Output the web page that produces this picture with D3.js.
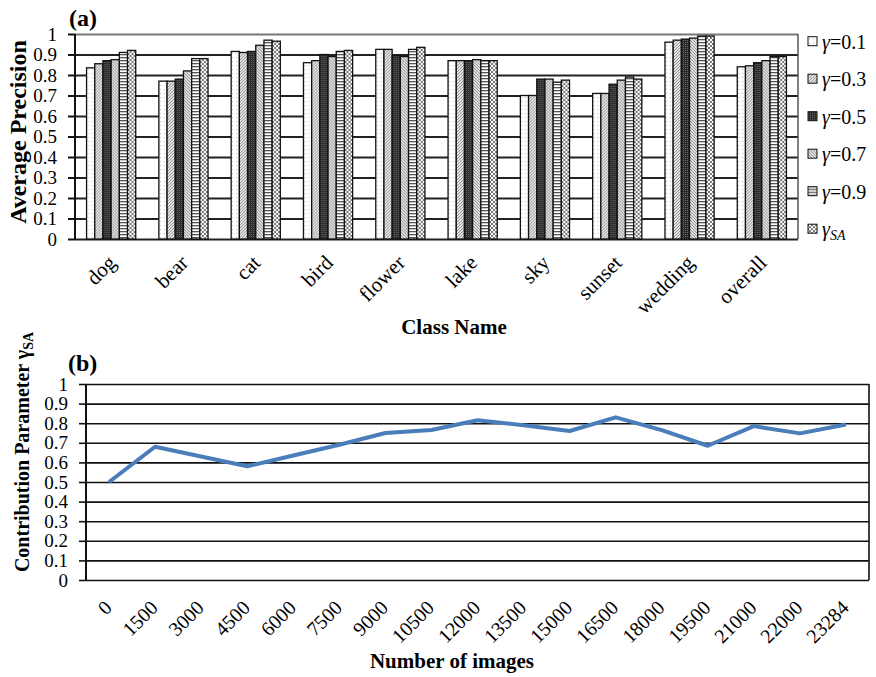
<!DOCTYPE html>
<html>
<head>
<meta charset="utf-8">
<script src="https://cdn.jsdelivr.net/npm/d3@7"></script>
<style>
  html, body { margin: 0; padding: 0; background: #fff; }
  svg { display: block; font-family: "Liberation Serif", "Times New Roman", serif; }
</style>
</head>
<body>
<svg id="fig" width="876" height="677"></svg>
<script>
// (a) average precision per class for each contribution parameter
const categories = ["dog", "bear", "cat", "bird", "flower", "lake", "sky", "sunset", "wedding", "overall"];
const gamma01 = [0.835, 0.77, 0.915, 0.86, 0.925, 0.87, 0.70, 0.71, 0.96, 0.84];
const gamma03 = [0.855, 0.77, 0.91, 0.87, 0.925, 0.87, 0.70, 0.71, 0.97, 0.845];
const gamma05 = [0.87, 0.78, 0.915, 0.90, 0.895, 0.87, 0.78, 0.755, 0.975, 0.86];
const gamma07 = [0.875, 0.82, 0.945, 0.89, 0.89, 0.875, 0.78, 0.775, 0.98, 0.87];
const gamma09 = [0.91, 0.88, 0.97, 0.915, 0.925, 0.87, 0.765, 0.79, 0.99, 0.89];
const gammaSAa = [0.92, 0.88, 0.965, 0.92, 0.935, 0.87, 0.775, 0.78, 0.99, 0.89];
const seriesKeys = ["0.1", "0.3", "0.5", "0.7", "0.9", "SA"];
const seriesValues = [gamma01, gamma03, gamma05, gamma07, gamma09, gammaSAa];

// (b) learned contribution parameter against training-set size
const imageCounts = ["0", "1500", "3000", "4500", "6000", "7500", "9000", "10500", "12000",
  "13500", "15000", "16500", "18000", "19500", "21000", "22000", "23284"];
const gammaSA = [0.50, 0.68, 0.63, 0.58, 0.635, 0.69, 0.75, 0.765, 0.815, 0.79, 0.76,
  0.83, 0.765, 0.685, 0.785, 0.748, 0.793];

const yTicks = d3.range(0, 11).map(i => i / 10);
const tickFmt = d => (d === 0 ? "0" : d === 1 ? "1" : d.toFixed(1));
const SERIF = "Liberation Serif, Times New Roman, serif";

const svg = d3.select("#fig");
const defs = svg.append("defs");

// fill patterns for the six series
function pat(id, w, h, bg, draw) {
  const p = defs.append("pattern").attr("id", id)
    .attr("patternUnits", "userSpaceOnUse").attr("width", w).attr("height", h);
  p.append("rect").attr("width", w).attr("height", h).attr("fill", bg);
  draw(p);
}
pat("p01", 4, 4, "#fff", p => {
  p.append("rect").attr("x", 1).attr("y", 1).attr("width", 1).attr("height", 1).attr("fill", "#bbb");
});
pat("p03", 3, 3, "#e6e6e6", p => {
  p.append("path").attr("d", "M0,3 L3,0 M-1,1 L1,-1 M2,4 L4,2").attr("stroke", "#888").attr("stroke-width", 0.9);
});
pat("p05", 2, 2, "#2a2a2a", p => {
  p.append("rect").attr("x", 0).attr("y", 0).attr("width", 1).attr("height", 1).attr("fill", "#6a6a6a");
});
pat("p07", 3, 3, "#e0e0e0", p => {
  p.append("path").attr("d", "M0,0 L3,3 M-1,2 L1,4 M2,-1 L4,1").attr("stroke", "#8a8a8a").attr("stroke-width", 0.9);
});
pat("p09", 3, 3, "#fff", p => {
  p.append("rect").attr("x", 0).attr("y", 0).attr("width", 3).attr("height", 1.3).attr("fill", "#555");
});
pat("pSA", 4, 4, "#fff", p => {
  p.append("path").attr("d", "M0,0 L4,4 M4,0 L0,4").attr("stroke", "#777").attr("stroke-width", 1);
});
const fills = { "0.1": "url(#p01)", "0.3": "url(#p03)", "0.5": "url(#p05)", "0.7": "url(#p07)", "0.9": "url(#p09)", "SA": "url(#pSA)" };

// ---------- (a) grouped bars ----------
const A = { left: 75, right: 798, top: 34, bottom: 239 };
const x0 = d3.scaleBand().domain(categories).range([A.left, A.right]).paddingInner(0.32).paddingOuter(0.16);
const x1 = d3.scaleBand().domain(seriesKeys).range([0, x0.bandwidth()]);
const yA = d3.scaleLinear().domain([0, 1]).range([A.bottom, A.top]);

const gA = svg.append("g");
// horizontal gridlines
gA.append("g").attr("transform", `translate(${A.left},0)`)
  .call(d3.axisLeft(yA).tickValues(yTicks).tickSize(-(A.right - A.left)).tickFormat(""))
  .call(g => g.select(".domain").remove())
  .call(g => g.selectAll(".tick line").attr("stroke", "#222").attr("stroke-width", 2))
  .call(g => g.selectAll(".tick").filter(d => d === 1).select("line").attr("stroke", "#777"));
// right border
gA.append("line").attr("x1", A.right).attr("x2", A.right).attr("y1", A.top).attr("y2", A.bottom)
  .attr("stroke", "#555").attr("stroke-width", 1.5);

// bars
const rows = categories.map((c, i) => ({ c, vals: seriesKeys.map((k, j) => ({ k, v: seriesValues[j][i] })) }));
gA.append("g").selectAll("g").data(rows).join("g")
  .attr("transform", d => `translate(${x0(d.c)},0)`)
  .selectAll("rect").data(d => d.vals).join("rect")
  .attr("x", d => x1(d.k)).attr("width", x1.bandwidth())
  .attr("y", d => yA(d.v)).attr("height", d => yA(0) - yA(d.v))
  .attr("fill", d => fills[d.k]).attr("stroke", "#111").attr("stroke-width", 1.3);

// y axis with outside ticks
gA.append("g").attr("transform", `translate(${A.left},0)`)
  .call(d3.axisLeft(yA).tickValues(yTicks).tickSize(7).tickPadding(11).tickFormat(tickFmt))
  .call(g => g.select(".domain").attr("stroke", "#111").attr("stroke-width", 2).attr("d", `M0,${A.top}V${A.bottom}`))
  .call(g => g.selectAll(".tick line").attr("stroke", "#111").attr("stroke-width", 2))
  .call(g => g.selectAll(".tick text").attr("font-size", 19).attr("fill", "#000").style("font-family", SERIF));

// category labels
gA.append("g").selectAll("text").data(categories).join("text")
  .attr("transform", d => `translate(${x0(d) + x0.bandwidth() / 2 + 6},${A.bottom + 25}) rotate(-45)`)
  .attr("text-anchor", "end").attr("font-size", 21).text(d => d);

// titles
svg.append("text").attr("x", 69).attr("y", 26).attr("font-size", 24).attr("font-weight", "bold").text("(a)");
svg.append("text").attr("transform", `translate(26,132) rotate(-90)`).attr("text-anchor", "middle")
  .attr("font-size", 24).attr("font-weight", "bold").text("Average Precision");
svg.append("text").attr("x", 454).attr("y", 334).attr("text-anchor", "middle")
  .attr("font-size", 21).attr("font-weight", "bold").text("Class Name");

// legend
const leg = svg.append("g").selectAll("g").data(seriesKeys).join("g")
  .attr("transform", (d, i) => `translate(808,${41.7 + i * 37.5})`);
leg.append("rect").attr("x", 0).attr("y", -5).attr("width", 9).attr("height", 9)
  .attr("fill", d => fills[d]).attr("stroke", "#111").attr("stroke-width", 1);
leg.each(function (d) {
  const t = d3.select(this).append("text").attr("x", 14).attr("y", 7).attr("font-size", 20);
  t.append("tspan").attr("font-style", "italic").text("γ");
  if (d === "SA") {
    t.append("tspan").attr("font-style", "italic").attr("font-size", 14).attr("dy", 4).text("SA");
  } else {
    t.append("tspan").text("=" + d);
  }
});

// ---------- (b) line chart ----------
const B = { left: 86, right: 869, top: 384, bottom: 580 };
const xB = d3.scalePoint().domain(imageCounts).range([B.left, B.right]).padding(0.5);
const yB = d3.scaleLinear().domain([0, 1]).range([B.bottom, B.top]);
const gB = svg.append("g");

gB.append("g").attr("transform", `translate(${B.left},0)`)
  .call(d3.axisLeft(yB).tickValues(yTicks).tickSize(-(B.right - B.left)).tickFormat(""))
  .call(g => g.select(".domain").remove())
  .call(g => g.selectAll(".tick line").attr("stroke", "#111").attr("stroke-width", 1.6));
gB.append("line").attr("x1", B.right).attr("x2", B.right).attr("y1", B.top).attr("y2", B.bottom)
  .attr("stroke", "#111").attr("stroke-width", 1.6);

gB.append("path").datum(imageCounts.map((c, i) => ({ c, v: gammaSA[i] })))
  .attr("fill", "none").attr("stroke", "#4A7EBB").attr("stroke-width", 4).attr("stroke-linejoin", "round")
  .attr("d", d3.line().x(d => xB(d.c)).y(d => yB(d.v)));

gB.append("g").attr("transform", `translate(${B.left},0)`)
  .call(d3.axisLeft(yB).tickValues(yTicks).tickSize(7).tickPadding(11).tickFormat(tickFmt))
  .call(g => g.select(".domain").attr("stroke", "#111").attr("stroke-width", 2).attr("d", `M0,${B.top}V${B.bottom}`))
  .call(g => g.selectAll(".tick line").attr("stroke", "#111").attr("stroke-width", 1.6))
  .call(g => g.selectAll(".tick text").attr("font-size", 19).attr("fill", "#000").style("font-family", SERIF));

gB.append("g").selectAll("text").data(imageCounts).join("text")
  .attr("transform", d => `translate(${xB(d) + 4},${B.bottom + 29}) rotate(-45)`)
  .attr("text-anchor", "end").attr("font-size", 20).text(d => d);

svg.append("text").attr("x", 68).attr("y", 371).attr("font-size", 24).attr("font-weight", "bold").text("(b)");
const yl = svg.append("text").attr("transform", `translate(29,452) rotate(-90)`).attr("text-anchor", "middle")
  .attr("font-size", 20).attr("font-weight", "bold");
yl.append("tspan").text("Contribution Parameter γ");
yl.append("tspan").attr("font-size", 14).attr("dy", 4).text("SA");
svg.append("text").attr("x", 452).attr("y", 668).attr("text-anchor", "middle")
  .attr("font-size", 21).attr("font-weight", "bold").text("Number of images");
</script>
</body>
</html>
